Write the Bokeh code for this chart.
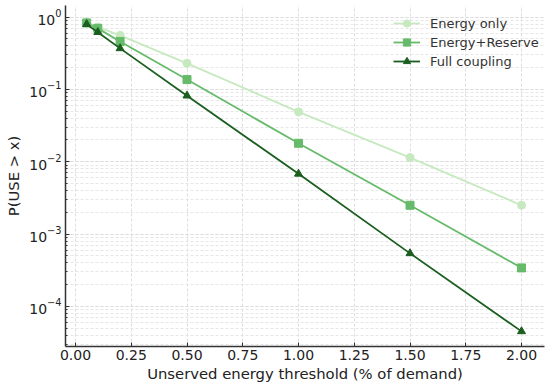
from bokeh.plotting import figure
from bokeh.embed import file_html
from bokeh.resources import INLINE
from bokeh.models import Legend, LegendItem, FixedTicker, LogTicker, NumeralTickFormatter

thresholds = [0.05, 0.1, 0.2, 0.5, 1.0, 1.5, 2.0]
energy_only = [0.86, 0.73, 0.56, 0.23, 0.049, 0.0114, 0.0025]
energy_reserve = [0.83, 0.70, 0.46, 0.137, 0.018, 0.0025, 0.00034]
full_coupling = [0.80, 0.62, 0.37, 0.082, 0.0068, 0.00054, 0.000045]
x_ticks = [0.0, 0.25, 0.5, 0.75, 1.0, 1.25, 1.5, 1.75, 2.0]

colors = ["#c7e9c0", "#66bb6a", "#1b5e20"]
FONT = "DejaVu Sans"

p = figure(width=548, height=388, y_axis_type="log",
           x_range=(-0.0448, 2.103), y_range=(2.78e-5, 1.45),
           output_backend="svg", toolbar_location=None,
           min_border_left=65, min_border_right=4, min_border_top=5, min_border_bottom=42)
p.outline_line_color = None

items = []
r = p.line(thresholds, energy_only, line_color=colors[0], line_width=1.8)
m = p.scatter(thresholds, energy_only, marker="circle", size=8, fill_color=colors[0], line_color=colors[0])
items.append(LegendItem(label="Energy only", renderers=[r, m]))
r = p.line(thresholds, energy_reserve, line_color=colors[1], line_width=1.8)
m = p.scatter(thresholds, energy_reserve, marker="square", size=8, fill_color=colors[1], line_color=colors[1])
items.append(LegendItem(label="Energy+Reserve", renderers=[r, m]))
r = p.line(thresholds, full_coupling, line_color=colors[2], line_width=1.8)
m = p.scatter(thresholds, full_coupling, marker="triangle", size=8, fill_color=colors[2], line_color=colors[2])
items.append(LegendItem(label="Full coupling", renderers=[r, m]))

legend = Legend(items=items, location=(328, 276), border_line_color=None,
                background_fill_alpha=0.0, label_text_font=FONT, label_text_font_size="13px",
                label_text_color="#333333", glyph_width=27, glyph_height=18, spacing=1, padding=5,
                label_standoff=10, margin=0)
p.add_layout(legend)

p.xaxis.ticker = FixedTicker(ticks=x_ticks)
p.xaxis.formatter = NumeralTickFormatter(format="0.00")
p.yaxis.ticker = LogTicker(num_minor_ticks=10)
for ax in (p.xaxis, p.yaxis):
    ax.axis_line_color = "#333333"
    ax.axis_line_width = 1.5
    ax.major_tick_in = 4
    ax.major_tick_out = 0
    ax.major_tick_line_color = "#333333"
    ax.major_label_text_font = FONT
    ax.major_label_text_font_size = "14px"
    ax.major_label_text_color = "#222222"
    ax.axis_label_text_font = FONT
    ax.axis_label_text_font_size = "14.8px"
    ax.axis_label_text_font_style = "normal"
    ax.axis_label_text_color = "#222222"
p.xaxis.minor_tick_line_color = None
p.yaxis.minor_tick_in = 2
p.yaxis.minor_tick_out = 0
p.yaxis.minor_tick_line_color = "#333333"
p.xaxis.axis_label = "Unserved energy threshold (% of demand)"
p.yaxis.axis_label = "P(USE > x)"
p.xaxis.major_label_standoff = 3
p.xaxis.axis_label_standoff = 2
p.yaxis.major_label_standoff = 4
p.yaxis.axis_label_standoff = 4

p.xgrid.grid_line_color = "#dddddd"
p.xgrid.grid_line_dash = "3 2"
p.ygrid.grid_line_color = "#dddddd"
p.ygrid.grid_line_dash = "3 2"
p.ygrid.minor_grid_line_color = "#e6e6e6"
p.ygrid.minor_grid_line_dash = "3 2"

open("out.html", "w").write(file_html(p, INLINE))
